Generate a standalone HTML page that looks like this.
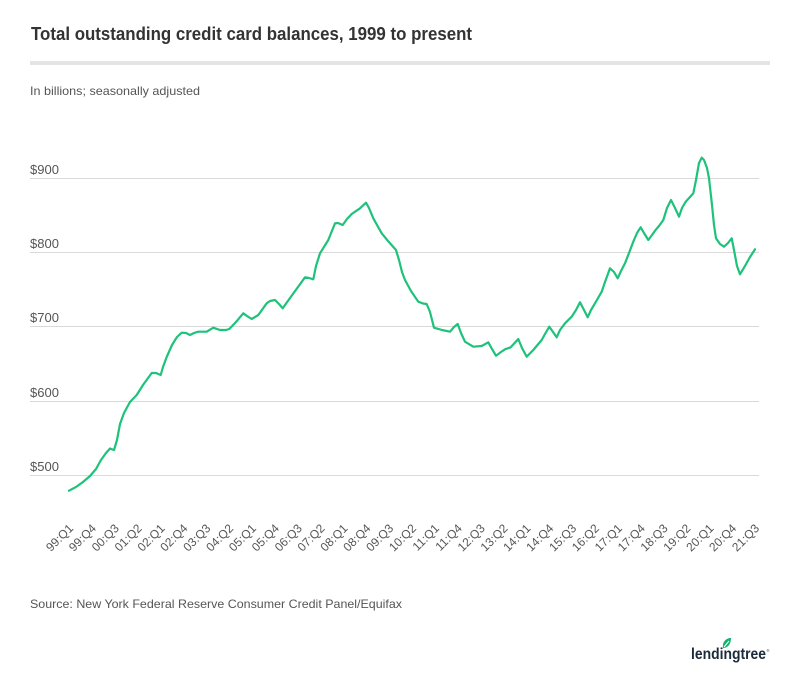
<!DOCTYPE html>
<html>
<head>
<meta charset="utf-8">
<style>
  html, body { margin: 0; padding: 0; background: #fff; }
  svg { display: block; }
  text { font-family: "Liberation Sans", sans-serif; }
</style>
</head>
<body>
<svg width="800" height="680" viewBox="0 0 800 680" xmlns="http://www.w3.org/2000/svg">
  <rect width="800" height="680" fill="#fff"/>
  <text x="31" y="40" font-size="18" font-weight="bold" fill="#333" textLength="441" lengthAdjust="spacingAndGlyphs">Total outstanding credit card balances, 1999 to present</text>
  <rect x="30" y="61" width="740" height="4" fill="#e4e4e4"/>
  <text x="30" y="95" font-size="12" fill="#555" textLength="170" lengthAdjust="spacingAndGlyphs">In billions; seasonally adjusted</text>

  <!-- gridlines -->
  <g stroke="#d9d9d9" stroke-width="1">
    <line x1="30" y1="178.5" x2="759" y2="178.5"/>
    <line x1="30" y1="252.5" x2="759" y2="252.5"/>
    <line x1="30" y1="326.5" x2="759" y2="326.5"/>
    <line x1="30" y1="401.5" x2="759" y2="401.5"/>
    <line x1="30" y1="475.5" x2="759" y2="475.5"/>
  </g>
  <g font-size="13" fill="#555">
    <text x="30" y="174">$900</text>
    <text x="30" y="248">$800</text>
    <text x="30" y="322">$700</text>
    <text x="30" y="397">$600</text>
    <text x="30" y="471">$500</text>
  </g>

  <polyline fill="none" stroke="#1ec27a" stroke-width="2.2" stroke-linejoin="round" stroke-linecap="round" points="69,490.7 76,487 83,482 90,476 96,469 101,460 106,453 110,448.5 114,450 117,440 120,424 124,413 130,402 136.7,395 143,385 151.7,373 156,373 160.7,375 163,367 166.7,357 172,345 177,337 181.7,332.7 186,333 190,335 194,333 198.3,331.7 206.7,331.7 213.3,327.7 220,330 226,330 229.3,329 236,322 243.3,313.3 247,316 251.7,319 258.3,315 266.7,303.3 270,301 275,300 279,304 282.7,308.3 290,298 298,287 305,277.3 309,278 313.3,279.3 316,266 320,253.3 328.3,240 335,223.3 338,223 342.7,225 347,219 351.7,214 360,208.3 366,202.7 369,208 373.3,218.3 381.7,233.3 388,241 396,250 399,260 402,272 405,280 411,291 418.3,301.7 423,303.5 426.7,304 430,312 434,327.7 442,330 450,331.7 454,327 457.7,324 461,333 465,341.7 473.3,346.7 481.7,346 488.3,342.3 492,349 496,355.7 501,352 505,349.3 510.7,347.3 518.3,339 522,348 526.7,356.7 533.3,350 541.7,340 545,334 549.3,326.7 553,332 556.7,337.3 560,330 565,323.3 571.7,316.7 576,310 580,302.3 584,310 587.7,317.3 591,310 595,303.3 601.7,291.7 605,282 610,268.3 614,272 617.7,278.3 621,271 625,263.3 629,253 633.3,241.7 637,233 640.7,227.3 644,233 648.3,240 652,235 655,230.7 659,226 663.3,220 667,208 671,200 675,208 679,216.7 682,208 685.7,201.7 690,197 693.3,193.3 696,180 699,163 701.7,157.7 704,160 707,168 709,178.3 712,205 714,225 716,238.3 720,244 724,246.7 728,243 731.7,238.3 734,250 737,266 740,274.3 745,266 750,257 755,249.3"/>

  <!-- x labels -->
  <g font-size="12" fill="#555" text-anchor="end">
    <text transform="translate(74,529) rotate(-45)">99:Q1</text>
    <text transform="translate(96.9,529) rotate(-45)">99:Q4</text>
    <text transform="translate(119.7,529) rotate(-45)">00:Q3</text>
    <text transform="translate(142.6,529) rotate(-45)">01:Q2</text>
    <text transform="translate(165.5,529) rotate(-45)">02:Q1</text>
    <text transform="translate(188.3,529) rotate(-45)">02:Q4</text>
    <text transform="translate(211.2,529) rotate(-45)">03:Q3</text>
    <text transform="translate(234.1,529) rotate(-45)">04:Q2</text>
    <text transform="translate(256.9,529) rotate(-45)">05:Q1</text>
    <text transform="translate(279.8,529) rotate(-45)">05:Q4</text>
    <text transform="translate(302.7,529) rotate(-45)">06:Q3</text>
    <text transform="translate(325.5,529) rotate(-45)">07:Q2</text>
    <text transform="translate(348.4,529) rotate(-45)">08:Q1</text>
    <text transform="translate(371.3,529) rotate(-45)">08:Q4</text>
    <text transform="translate(394.1,529) rotate(-45)">09:Q3</text>
    <text transform="translate(417,529) rotate(-45)">10:Q2</text>
    <text transform="translate(439.9,529) rotate(-45)">11:Q1</text>
    <text transform="translate(462.7,529) rotate(-45)">11:Q4</text>
    <text transform="translate(485.6,529) rotate(-45)">12:Q3</text>
    <text transform="translate(508.5,529) rotate(-45)">13:Q2</text>
    <text transform="translate(531.3,529) rotate(-45)">14:Q1</text>
    <text transform="translate(554.2,529) rotate(-45)">14:Q4</text>
    <text transform="translate(577.1,529) rotate(-45)">15:Q3</text>
    <text transform="translate(599.9,529) rotate(-45)">16:Q2</text>
    <text transform="translate(622.8,529) rotate(-45)">17:Q1</text>
    <text transform="translate(645.7,529) rotate(-45)">17:Q4</text>
    <text transform="translate(668.5,529) rotate(-45)">18:Q3</text>
    <text transform="translate(691.4,529) rotate(-45)">19:Q2</text>
    <text transform="translate(714.3,529) rotate(-45)">20:Q1</text>
    <text transform="translate(737.1,529) rotate(-45)">20:Q4</text>
    <text transform="translate(760,529) rotate(-45)">21:Q3</text>
  </g>

  <text x="30" y="608" font-size="12" fill="#555" textLength="372" lengthAdjust="spacingAndGlyphs">Source: New York Federal Reserve Consumer Credit Panel/Equifax</text>

  <!-- logo -->
  <path d="M723,648 C722,642 726,638 731,638 C731,644 728,648 723,648 Z" fill="#13b36c"/>
  <path d="M724,647 L729,641" stroke="#fff" stroke-width="1"/>
  <text x="691" y="659" font-size="16" font-weight="bold" fill="#1c2b39" textLength="75" lengthAdjust="spacingAndGlyphs">lendingtree</text>
  <text x="766.5" y="652" font-size="4" fill="#1c2b39">®</text>
</svg>
</body>
</html>
